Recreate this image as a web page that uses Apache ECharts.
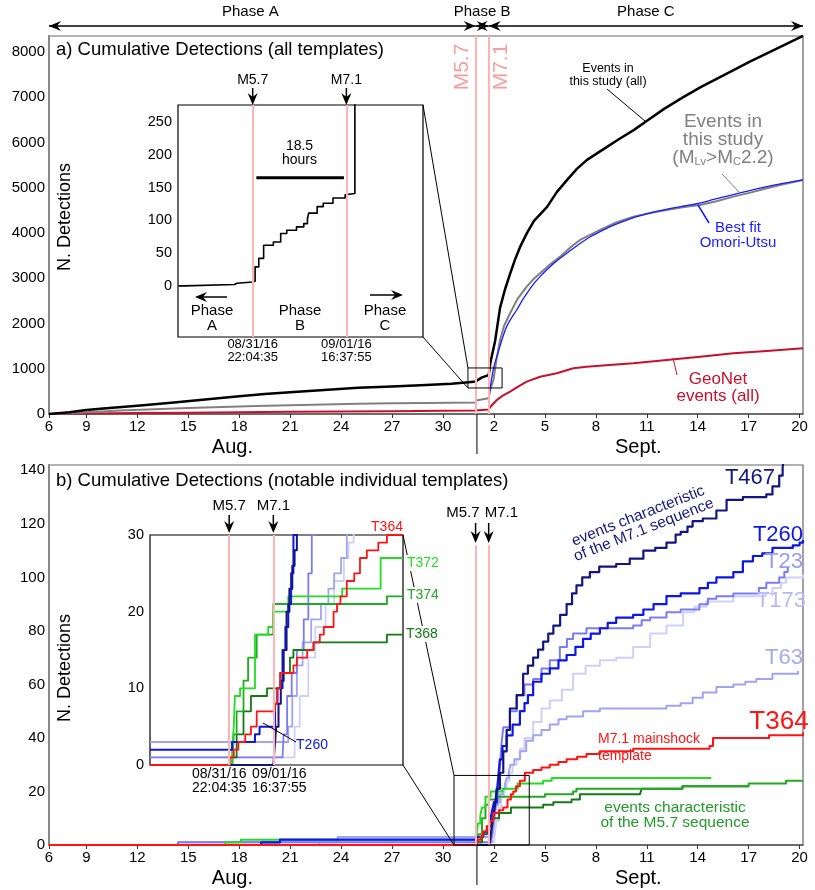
<!DOCTYPE html>
<html>
<head>
<meta charset="utf-8">
<title>Cumulative detections</title>
<script src="https://cdn.jsdelivr.net/npm/echarts@6/dist/echarts.min.js"></script>
<style>
  html, body { margin: 0; padding: 0; background: #fff; }
  #chart { width: 815px; height: 890px; }
</style>
</head>
<body>
<div id="chart"></div>
<script>
// x values are day numbers: Aug d -> d, Sept d -> 31 + d
var M57 = 31.92;   // 08/31/16 22:04:35
var M71 = 32.69;   // 09/01/16 16:37:55
var SEPT1 = 32;

var dayTicks = [6.8, 9, 12, 15, 18, 21, 24, 27, 30, 33, 36, 39, 42, 45, 48, 51];
var topTicks = [0, 1000, 2000, 3000, 4000, 5000, 6000, 7000, 8000];
var bottomTicks = [0, 20, 40, 60, 80, 100, 120, 140];
var insetTopTicks = [0, 50, 100, 150, 200, 250];
var insetBottomTicks = [0, 10, 20, 30];

// ---- panel a ----
var allEvents = [[6.8,0],[8,40],[9,90],[10,120],[12,180],[14,250],[16,320],[18,390],[19.5,440],[21,480],[23,530],[25,580],[27,610],[29,640],[30.5,670],[31.5,700],[31.92,720],[32.0,760],[32.3,810],[32.69,860],[32.8,1150],[33.07,1613],[33.36,2343],[33.65,2750],[33.95,3094],[34.25,3420],[34.54,3691],[34.95,4000],[35.36,4265],[36.13,4575],[36.7,4900],[37.31,5171],[37.9,5420],[38.48,5613],[39.66,5900],[40.4,6080],[41.25,6276],[42.1,6500],[43.02,6740],[44.1,6990],[45.2,7227],[46.2,7420],[47.14,7602],[48.1,7790],[49.14,7978],[50.2,8170],[51.2,8354]];
var magcEvents = [[6.8,0],[8,15],[9,40],[11,75],[13,105],[15,130],[17,155],[19,175],[21,195],[23,210],[25,225],[27,235],[29,245],[31.92,255],[31.95,300],[32.69,350],[32.8,560],[32.97,751],[33.15,1200],[33.36,1635],[33.6,1950],[33.95,2225],[34.4,2550],[34.93,2813],[35.3,2970],[35.72,3109],[36.3,3300],[36.9,3476],[37.5,3680],[38.07,3845],[39.25,4066],[40.2,4230],[41.21,4360],[42.2,4440],[43.18,4508],[44.2,4570],[45.14,4619],[46.1,4700],[47.1,4802],[48.1,4890],[49.07,4988],[50.1,5080],[51.2,5171]];
var omoriFit = [[32.69,350],[32.75,500],[32.85,750],[33.0,1050],[33.2,1300],[33.36,1500],[33.55,1730],[33.75,1930],[34.0,2100],[34.34,2298],[34.65,2500],[35.0,2700],[35.35,2880],[35.72,3034],[36.1,3180],[36.5,3320],[36.9,3440],[37.29,3551],[37.75,3680],[38.2,3800],[38.7,3920],[39.25,4029],[39.85,4140],[40.5,4240],[41.2,4335],[42.0,4420],[42.7,4485],[43.5,4550],[44.3,4600],[45.04,4650],[46.0,4745],[47.1,4845],[48.0,4930],[49.07,5023],[50.1,5100],[51.2,5171]];
var geonetEvents = [[6.8,0],[9,10],[12,20],[15,30],[18,40],[21,48],[24,55],[27,62],[30,70],[31.92,80],[32.69,100],[32.8,160],[33.17,309],[33.5,400],[33.95,493],[34.4,600],[34.93,714],[35.72,824],[36.7,899],[37.68,1010],[38.46,1045],[39.8,1080],[41.21,1120],[43.18,1193],[45.14,1266],[47.1,1341],[49.07,1392],[51.2,1452]];
// inset a: detections counted from the start of the window
var insetAll = [[31.31,0],[31.36,0],[31.37,2],[31.77,2],[31.78,4],[31.79,6],[31.92,7],[31.94,29],[31.97,42],[32.01,62],[32.09,67],[32.15,80],[32.2,85],[32.28,90],[32.34,95],[32.37,102],[32.38,111],[32.45,121],[32.5,126],[32.58,134],[32.68,139],[32.69,141],[32.76,290]];
var hoursBar = [[31.95,165],[32.67,165]];

// ---- panel b ----
var t467 = [[6.8,0],[32.72,0],[32.8,3],[32.9,8],[33.0,12],[33.1,17],[33.16,21],[33.35,27],[33.55,35],[33.75,43],[33.94,51],[34.34,56],[34.72,64],[35.0,67],[35.31,70],[35.6,73],[35.9,76],[36.2,79],[36.5,82],[36.9,86],[37.28,90],[37.6,94],[37.86,97],[38.2,100],[38.65,102],[39.2,104],[40.2,105],[41.0,107],[41.8,110],[42.5,111],[43.16,113],[43.7,116],[44.0,117],[44.4,119],[44.7,121],[45.3,122],[46.1,125],[46.7,129],[47.66,130],[49.04,131],[49.4,134],[49.8,138],[50.0,141],[50.1,146]];
var t260 = [[6.8,0],[19.3,1],[20.4,2],[31.97,3],[32.37,4],[32.45,5],[32.72,8],[32.8,10],[32.9,13],[33.0,16],[33.16,19],[33.25,25],[33.35,32],[33.5,37],[33.75,41],[34.1,45],[34.53,50],[34.8,53],[35.0,56],[35.31,61],[35.8,64],[36.29,66],[36.8,69],[37.28,71],[37.8,74],[38.25,77],[38.7,79],[39.24,81],[39.7,83],[40.2,85],[41.2,86],[41.8,88],[42.4,90],[43.16,93],[44.0,94],[45.1,96],[45.6,98],[46.1,100],[47.1,102],[47.66,106],[48.25,108],[48.8,109],[49.4,111],[50.6,112],[51.0,113],[51.2,114]];
var t23 = [[6.8,0],[14.4,1],[32.85,1],[32.87,4],[32.93,9],[33.01,12],[33.1,15],[33.22,19],[33.3,25],[33.36,30],[33.45,38],[33.55,44],[33.94,50],[34.34,56],[34.8,60],[35.31,62],[35.8,66],[36.29,69],[36.88,74],[37.3,77],[37.66,79],[38.45,81],[41.2,82],[41.7,84],[42.2,85],[43.16,87],[44.0,88],[45.1,90],[45.6,92],[46.1,93],[47.1,94],[48.6,96],[49.04,98],[49.8,100],[50.1,102],[50.3,104]];
var t173 = [[6.8,0],[22.7,1],[33.0,1],[33.06,5],[33.15,9],[33.3,14],[33.42,18],[33.6,21],[33.75,24],[33.92,27],[34.09,30],[34.34,32],[34.55,36],[34.8,40],[35.31,46],[35.8,51],[36.29,54],[37.0,58],[37.66,64],[38.4,67],[39.24,69],[40.2,70],[41.2,74],[42.2,79],[43.16,82],[44.14,87],[44.8,89],[45.5,91],[47.1,93],[48.6,93],[49.0,94],[49.4,96],[49.9,98],[50.2,100],[51.2,101]];
var t63 = [[6.8,0],[14.4,1],[23.8,3],[32.9,3],[32.95,5],[33.02,9],[33.1,13],[33.2,16],[33.35,19],[33.52,21],[33.65,23],[33.75,25],[33.87,27],[33.97,30],[34.2,32],[34.53,35],[34.9,39],[35.31,41],[35.8,43],[36.29,45],[36.8,47],[37.28,48],[38.25,50],[39.24,51],[41.2,51],[43.16,52],[44.0,53],[44.7,55],[45.3,57],[46.1,59],[47.1,60],[47.8,61],[48.45,62],[49.4,64],[50.9,65]];
var t364 = [[6.8,0],[31.93,1],[32.05,2],[32.2,3],[32.35,5],[32.57,7],[32.75,9],[32.96,12],[33.3,13],[33.55,14],[33.8,17],[34.0,19],[34.14,20],[34.3,22],[34.53,24],[34.82,27],[35.31,28],[35.8,29],[36.29,30],[36.8,31],[37.28,32],[37.9,33],[38.45,34],[39.24,35],[41.2,36],[45.7,37],[45.9,40],[49.2,41],[51.2,42]];
var t372 = [[6.8,0],[17.2,1],[18.1,2],[31.95,3],[32.0,5],[32.05,8],[32.2,11],[32.3,14],[32.5,18],[32.8,20],[33.5,21],[34.4,23],[35.9,24],[36.4,25],[45.8,25]];
var t374 = [[6.8,0],[31.95,1],[32.05,4],[32.3,10],[32.5,15],[32.7,17],[33.2,18],[34.7,18],[36.0,19],[37.66,20],[37.86,21],[44.1,22],[48.0,23],[50.2,24],[51.2,24]];
var t368 = [[6.8,0],[32.0,1],[32.3,4],[32.6,7],[32.9,10],[33.3,12],[34.0,14],[35.9,15],[36.5,16],[37.57,17],[38.06,19],[41.6,19],[41.7,21],[44.1,22],[48.0,22]];
// inset b
var insetT364 = [[30.54,0],[31.93,1],[32.0,2],[32.08,3],[32.2,4],[32.3,5],[32.4,7],[32.72,8],[32.76,10],[32.81,12],[33.04,13],[33.1,14],[33.28,15],[33.39,16],[33.5,17],[33.57,18],[33.74,20],[33.8,21],[33.86,22],[33.97,24],[34.1,25],[34.2,27],[34.32,28],[34.52,29],[34.67,30],[34.95,30]];
var insetT372 = [[30.54,0],[31.97,2],[32.0,5],[32.02,9],[32.11,10],[32.37,17],[32.6,18],[32.69,20],[32.95,22],[33.89,23],[34.56,27],[34.95,27]];
var insetT374 = [[30.54,0],[31.98,1],[32.0,4],[32.05,7],[32.17,11],[32.25,14],[32.4,17],[32.69,21],[34.67,22],[34.95,22]];
var insetT368 = [[30.54,0],[31.97,1],[32.05,4],[32.17,7],[32.3,9],[32.58,10],[32.81,12],[32.98,14],[33.04,15],[33.39,16],[34.67,17],[34.95,17]];
var insetT260 = [[30.54,2],[31.97,3],[32.37,4],[32.45,5],[32.72,8],[32.76,10],[32.85,15],[32.9,18],[32.95,21],[33.0,25],[33.04,30],[33.1,32]];
var insetT467 = [[30.54,0],[32.69,0],[32.71,2],[32.74,5],[32.78,8],[32.82,11],[32.87,15],[32.92,20],[32.97,23],[33.02,26],[33.06,28],[33.1,31]];
var insetT23 = [[30.54,1],[32.85,1],[32.87,4],[32.93,9],[33.01,12],[33.1,15],[33.22,19],[33.3,25],[33.36,30],[33.4,32]];
var insetT63 = [[30.54,3],[32.9,3],[32.95,5],[33.02,9],[33.1,13],[33.2,16],[33.35,19],[33.52,21],[33.65,23],[33.75,25],[33.87,27],[33.97,30],[34.0,32]];
var insetT173 = [[30.54,1],[33.0,1],[33.06,5],[33.15,9],[33.3,14],[33.42,18],[33.6,21],[33.75,24],[33.92,27],[34.0,29],[34.09,30],[34.1,32]];

var FONT = '"Liberation Sans", Arial, Helvetica, sans-serif';
var PINK = '#ffb4b4';
var col = {
  t467: '#15157f', t260: '#0c16e8', t23: '#7c7cf2', t173: '#cfcffb', t63: '#a3a3f2',
  t364: '#ff1414', t372: '#22dd22', t374: '#22aa22', t368: '#147a14'
};

function dayLabel(v) {
  var d = Math.floor(v + 1e-6);
  return d > 31 ? String(d - 31) : String(d);
}

function ser(data, color, width, grid, extra) {
  return Object.assign({
    type: 'line', data: data, xAxisIndex: grid, yAxisIndex: grid,
    showSymbol: false, symbol: 'none', silent: true,
    lineStyle: { color: color, width: width, join: 'round' }
  }, extra || {});
}

function pinkLines(data) {
  return {
    silent: true, symbol: ['none', 'none'], label: { show: false },
    lineStyle: { color: PINK, width: 2, type: 'solid' }, data: data
  };
}

function mainX(grid) {
  return {
    type: 'value', gridIndex: grid, min: 6.8, max: 51.2,
    axisLine: { lineStyle: { color: '#555', width: 1.5 } },
    axisTick: { customValues: dayTicks, length: 4, lineStyle: { color: '#333' } },
    axisLabel: { customValues: dayTicks, formatter: dayLabel, fontSize: 15, color: '#000', fontFamily: FONT, margin: 5 },
    splitLine: { show: false }
  };
}
function insetX(grid, min, max) {
  return { type: 'value', gridIndex: grid, min: min, max: max, show: false, splitLine: { show: false } };
}
function yAx(grid, min, max, ticks, size, line) {
  return {
    type: 'value', gridIndex: grid, min: min, max: max,
    axisLine: { show: line, lineStyle: { color: '#888', width: 2 } },
    axisTick: { show: false },
    axisLabel: { customValues: ticks, formatter: function (v) { return String(v); },
      fontSize: size, color: '#000', fontFamily: FONT, margin: line ? 4 : 6 },
    splitLine: { show: false }
  };
}

var option = {
  animation: false,
  backgroundColor: '#fff',
  textStyle: { fontFamily: FONT },
  grid: [
    { left: 49, top: 36, width: 754, height: 378, show: true, borderColor: '#666', borderWidth: 1.2, backgroundColor: '#fff' },
    { left: 178, top: 105, width: 245, height: 232, show: true, borderColor: '#000', borderWidth: 1.2, backgroundColor: '#fff' },
    { left: 49, top: 465, width: 754, height: 380, show: true, borderColor: '#666', borderWidth: 1.2, backgroundColor: '#fff' },
    { left: 150, top: 535, width: 253, height: 230, show: true, borderColor: '#000', borderWidth: 1.2, backgroundColor: '#fff' }
  ],
  xAxis: [ mainX(0), insetX(1, 31.306, 33.32), mainX(2), insetX(3, 30.54, 34.95) ],
  yAxis: [
    yAx(0, 0, 8350, topTicks, 15, true),
    yAx(1, -78, 276, insetTopTicks, 14.5, false),
    yAx(2, 0, 142, bottomTicks, 15, true),
    yAx(3, 0, 30, insetBottomTicks, 14.5, false)
  ],
  series: [
    // panel a
    ser(geonetEvents, '#c8102e', 2, 0, {
      markLine: pinkLines([{ xAxis: M57 }, { xAxis: M71 }]) }),
    ser(magcEvents, '#808080', 2, 0),
    ser(omoriFit, '#1a1aff', 1.3, 0, { smooth: 0.2 }),
    ser(allEvents, '#000', 2.5, 0),
    ser(insetAll, '#000', 1.6, 1, { step: 'end',
      markLine: pinkLines([{ xAxis: M57 }, { xAxis: M71 }]) }),
    ser(hoursBar, '#000', 3, 1),
    // panel b
    ser(t173, col.t173, 2, 2, { step: 'end',
      markLine: pinkLines([[{ coord: [M57, 0] }, { coord: [M57, 112] }], [{ coord: [M71, 0] }, { coord: [M71, 112] }]]) }),
    ser(t63, col.t63, 2, 2, { step: 'end' }),
    ser(t23, col.t23, 2, 2, { step: 'end' }),
    ser(t368, col.t368, 2, 2, { step: 'end' }),
    ser(t374, col.t374, 2, 2, { step: 'end' }),
    ser(t372, col.t372, 2, 2, { step: 'end' }),
    ser(t260, col.t260, 2.2, 2, { step: 'end' }),
    ser(t467, col.t467, 2.2, 2, { step: 'end' }),
    ser(t364, col.t364, 2, 2, { step: 'end' }),
    // inset b
    ser(insetT173, col.t173, 1.8, 3, { step: 'end',
      markLine: pinkLines([{ xAxis: M57 }, { xAxis: M71 }]) }),
    ser(insetT63, col.t63, 1.8, 3, { step: 'end' }),
    ser(insetT23, col.t23, 1.8, 3, { step: 'end' }),
    ser(insetT368, col.t368, 1.8, 3, { step: 'end' }),
    ser(insetT374, col.t374, 1.8, 3, { step: 'end' }),
    ser(insetT372, col.t372, 1.8, 3, { step: 'end' }),
    ser(insetT260, col.t260, 2, 3, { step: 'end' }),
    ser(insetT467, col.t467, 2, 3, { step: 'end' }),
    ser(insetT364, col.t364, 1.8, 3, { step: 'end' })
  ]
};

var chart = echarts.init(document.getElementById('chart'));
chart.setOption(option);

// ---------- annotations ----------
function P(g, x, y) { return chart.convertToPixel({ gridIndex: g }, [x, y]); }

function txt(x, y, s, o) {
  return { type: 'text', x: x, y: y, z: 10, style: Object.assign({
    text: s, fill: '#000', font: '15px ' + FONT, textAlign: 'center', textVerticalAlign: 'middle'
  }, o || {}) };
}
function seg(x1, y1, x2, y2, color, w) {
  return { type: 'line', z: 9, shape: { x1: x1, y1: y1, x2: x2, y2: y2 },
    style: { stroke: color || '#000', lineWidth: w || 1 } };
}
function headDown(x, y) {
  return { type: 'polygon', z: 9, shape: { points: [[x, y], [x - 5, y - 12], [x, y - 8], [x + 5, y - 12]] }, style: { fill: '#000' } };
}
function headH(x, y, dir) { // dir = +1 points right, -1 points left
  return { type: 'polygon', z: 9, shape: { points: [[x, y], [x - dir * 12, y - 5], [x - dir * 8, y], [x - dir * 12, y + 5]] }, style: { fill: '#000' } };
}
function downArrow(x, y1, y2) { return [seg(x, y1, x, y2 - 4, '#000', 1.5), headDown(x, y2)]; }
function phaseArrow(x1, x2, y) { return [seg(x1, y, x2, y, '#000', 1.5), headH(x1, y, -1), headH(x2, y, 1)]; }

var g = [];
var f = function (size) { return size + 'px ' + FONT; };

// phase arrows above panel a
var xL = P(0, 6.8, 0)[0], xA = P(0, M57, 0)[0], xB = P(0, M71, 0)[0], xR = P(0, 51.2, 0)[0];
g = g.concat(phaseArrow(xL, xA, 26), phaseArrow(xA, xB, 26), phaseArrow(xB, xR, 26));
g.push(txt((xL + xA) / 2 - 12, 12, 'Phase A', { font: f(15) }));
g.push(txt((xA + xB) / 2, 12, 'Phase B', { font: f(15) }));
g.push(txt((xB + xR) / 2, 12, 'Phase C', { font: f(15) }));

// panel a titles and labels
g.push(txt(56, 50, 'a) Cumulative Detections (all templates)', { font: f(18.5), textAlign: 'left' }));
g.push(Object.assign(txt(65, 217, 'N. Detections', { font: f(18) }), { rotation: Math.PI / 2 }));
g.push(Object.assign(txt(xA - 13, 67, 'M5.7', { font: f(21), fill: '#f5a0a0' }), { rotation: Math.PI / 2 }));
g.push(Object.assign(txt(xB + 13, 67, 'M7.1', { font: f(21), fill: '#f5a0a0' }), { rotation: Math.PI / 2 }));
g.push(txt(608, 75, 'Events in\nthis study (all)', { font: f(12.5), lineHeight: 13 }));
g.push(seg(607, 89, 645, 121));
g.push(txt(723, 140, 'Events in\nthis study\n(M{s|Lv}>M{s|C}2.2)', { font: f(19), fill: '#808080', lineHeight: 18,
  rich: { s: { font: f(11), fill: '#808080', padding: [7, 0, 0, 0] } } }));
g.push(seg(722, 174, 740, 193, '#808080'));
g.push(txt(738, 235, 'Best fit\nOmori-Utsu', { font: f(15), fill: '#1a1aff', lineHeight: 15 }));
g.push(seg(698, 205, 709, 223, '#1a1aff', 1.5));
g.push(txt(718, 388, 'GeoNet\nevents (all)', { font: f(17), fill: '#c8102e', lineHeight: 17 }));
g.push(seg(673, 358, 677, 375, '#c8102e'));

// inset a
var ia = P(1, M57, 276), ib = P(1, M71, 276), iBot = P(1, M57, -78)[1];
g = g.concat(downArrow(ia[0], 88, ia[1]), downArrow(ib[0], 88, ib[1]));
g.push(txt(ia[0], 80, 'M5.7', { font: f(14) }));
g.push(txt(ib[0], 80, 'M7.1', { font: f(14) }));
g.push(txt(ia[0], iBot + 14, '08/31/16\n22:04:35', { font: f(13), lineHeight: 13 }));
g.push(txt(ib[0], iBot + 14, '09/01/16\n16:37:55', { font: f(13), lineHeight: 13 }));
var hb = P(1, (M57 + M71) / 2, 200);
g.push(txt(hb[0], hb[1] - 2, '18.5\nhours', { font: f(14), lineHeight: 14 }));
g.push(seg(227, 297, 199, 297, '#000', 1.5), headH(195, 297, -1));
g.push(seg(370, 295, 399, 295, '#000', 1.5), headH(403, 295, 1));
g.push(txt(212, 318, 'Phase\nA', { font: f(15), lineHeight: 15 }));
g.push(txt(300, 318, 'Phase\nB', { font: f(15), lineHeight: 15 }));
g.push(txt(385, 318, 'Phase\nC', { font: f(15), lineHeight: 15 }));
// zoom box a
var r1 = P(0, 31.47, 1017), r2 = P(0, 33.48, 575);
g.push({ type: 'rect', z: 8, shape: { x: r1[0], y: r1[1], width: r2[0] - r1[0], height: r2[1] - r1[1] }, style: { fill: 'none', stroke: '#000', lineWidth: 1 } });
var iTR = P(1, 33.32, 276), iBR = P(1, 33.32, -78);
g.push(seg(iTR[0], iTR[1], r1[0], r1[1]), seg(iBR[0], iBR[1], r1[0], r2[1]));

// month labels and divider
[0, 2].forEach(function (gi) {
  var base = P(gi, SEPT1, 0);
  g.push(seg(base[0], base[1], base[0], base[1] + 40, '#000', 1));
  g.push(txt(P(gi, 17.6, 0)[0], base[1] + 33, 'Aug.', { font: f(20) }));
  g.push(txt(P(gi, 41.5, 0)[0], base[1] + 33, 'Sept.', { font: f(20) }));
});

// panel b labels
g.push(txt(56, 481, 'b) Cumulative Detections (notable individual templates)', { font: f(18.5), textAlign: 'left' }));
g.push(Object.assign(txt(65, 668, 'N. Detections', { font: f(18) }), { rotation: Math.PI / 2 }));
var ba = P(2, M57, 0)[0], bb = P(2, M71, 0)[0];
g = g.concat(downArrow(ba, 523, 543), downArrow(bb, 523, 543));
g.push(txt(ba + 4, 513, 'M5.7', { font: f(15), textAlign: 'right' }));
g.push(txt(bb - 4, 513, 'M7.1', { font: f(15), textAlign: 'left' }));
g.push(txt(750, 478, 'T467', { font: f(22), fill: col.t467 }));
g.push(Object.assign(txt(641, 523, 'events characteristic\nof the M7.1 sequence', { font: f(15.5), fill: col.t467, lineHeight: 15 }), { rotation: 21.5 * Math.PI / 180 }));
g.push(txt(778, 535, 'T260', { font: f(22), fill: col.t260 }));
g.push(txt(784, 562, 'T23', { font: f(22), fill: '#9a9af4' }));
g.push(txt(781, 601, 'T173', { font: f(22), fill: '#b9b9f6' }));
g.push(txt(784, 658, 'T63', { font: f(22), fill: '#a9a9f0' }));
g.push(txt(779, 722, 'T364', { font: f(26), fill: '#ff1414' }));
g.push(txt(598, 748, 'M7.1 mainshock\ntemplate', { font: f(14), fill: '#ff1414', textAlign: 'left', lineHeight: 17 }));
g.push(txt(675, 815, 'events characteristic\nof the M5.7 sequence', { font: f(15.5), fill: '#22992a', lineHeight: 15 }));

// inset b
var ca = P(3, M57, 30), cb = P(3, M71, 30), cBot = P(3, M57, 0)[1];
g = g.concat(downArrow(ca[0], 515, ca[1] - 2), downArrow(cb[0], 515, cb[1] - 2));
g.push(txt(ca[0], 506, 'M5.7', { font: f(15) }));
g.push(txt(cb[0], 506, 'M7.1', { font: f(15) }));
g.push(txt(ca[0] - 10, cBot + 16, '08/31/16\n22:04:35', { font: f(14), lineHeight: 14 }));
g.push(txt(cb[0] + 6, cBot + 16, '09/01/16\n16:37:55', { font: f(14), lineHeight: 14 }));
var b1 = P(2, 30.65, 26), b2 = P(2, 35.08, 0);
g.push({ type: 'rect', z: 8, shape: { x: b1[0], y: b1[1], width: b2[0] - b1[0], height: b2[1] - b1[1] }, style: { fill: 'none', stroke: '#000', lineWidth: 1 } });
var jTR = P(3, 34.95, 30), jBR = P(3, 34.95, 0);
g.push(seg(jTR[0], jTR[1], b1[0], b1[1]), seg(jBR[0], jBR[1], b1[0], b2[1]));
g.push(txt(387, 527, 'T364', { font: f(14), fill: '#ff1414', backgroundColor: '#fff' }));
g.push(txt(405, 563, 'T372', { font: f(14), fill: col.t372, textAlign: 'left', backgroundColor: '#fff', padding: [1, 2] }));
g.push(txt(405, 595, 'T374', { font: f(14), fill: col.t374, textAlign: 'left', backgroundColor: '#fff', padding: [1, 2] }));
g.push(txt(404, 634, 'T368', { font: f(14), fill: col.t368, textAlign: 'left', backgroundColor: '#fff', padding: [1, 2] }));
g.push(txt(312, 745, 'T260', { font: f(14), fill: col.t260 }));
g.push(seg(263, 723, 296, 742));

chart.setOption({ graphic: { elements: g } });
</script>
</body>
</html>
